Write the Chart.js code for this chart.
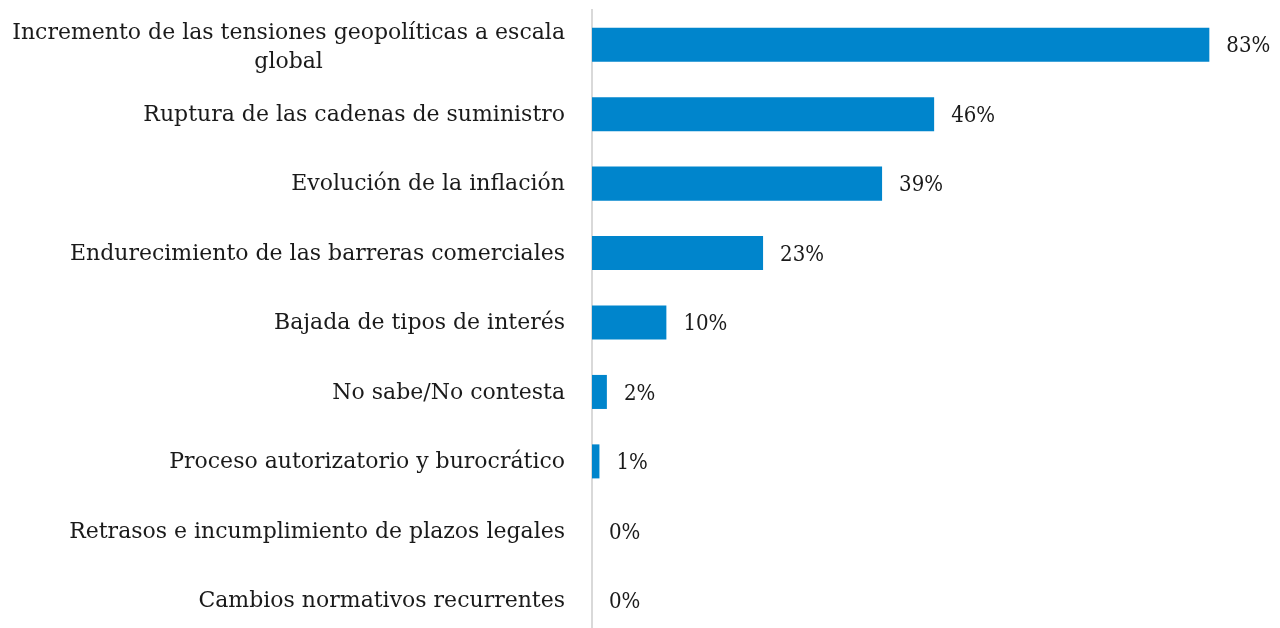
<!DOCTYPE html>
<html>
<head>
<meta charset="utf-8">
<script src="https://cdn.jsdelivr.net/npm/chart.js@4.4.1/dist/chart.umd.min.js"></script>
<style>
    html, body { margin: 0; padding: 0; background: #fff; overflow: hidden; }
    #wrap { position: relative; width: 1280px; height: 640px; }
</style>
</head>
<body>
<div id="wrap"><canvas id="barChart"></canvas></div>
<script>
// Chart data
const categories = [
    ['Incremento de las tensiones geopolíticas a escala', 'global'],
    'Ruptura de las cadenas de suministro',
    'Evolución de la inflación',
    'Endurecimiento de las barreras comerciales',
    'Bajada de tipos de interés',
    'No sabe/No contesta',
    'Proceso autorizatorio y burocrático',
    'Retrasos e incumplimiento de plazos legales',
    'Cambios normativos recurrentes'
];
const values = [83, 46, 39, 23, 10, 2, 1, 0, 0];

const labelFont = "22px 'DejaVu Serif', serif";
const valueFont = "22px 'DejaVu Serif Condensed', 'DejaVu Serif', serif";

// Draws category labels (multi-line centered) and value labels
const labelPlugin = {
    id: 'labelPlugin',
    afterDatasetsDraw(chart) {
        const ctx = chart.ctx;
        const yScale = chart.scales.y;
        const xScale = chart.scales.x;
        const area = chart.chartArea;
        ctx.save();
        ctx.fillStyle = '#1a1a1a';
        ctx.font = labelFont;
        ctx.textBaseline = 'middle';

        categories.forEach((cat, i) => {
            const y = yScale.getPixelForTick(i) + 1;
            const lines = Array.isArray(cat) ? cat : [cat];
            const right = area.left - 27;
            if (lines.length > 1) {
                const widest = Math.max(...lines.map(l => ctx.measureText(l).width));
                const center = right - widest / 2;
                const lh = 29;
                ctx.textAlign = 'center';
                lines.forEach((l, k) => {
                    ctx.fillText(l, center, y + 2 + (k - (lines.length - 1) / 2) * lh);
                });
            } else {
                ctx.textAlign = 'right';
                ctx.fillText(lines[0], right, y);
            }
        });

        ctx.font = valueFont;
        ctx.textAlign = 'left';
        values.forEach((v, i) => {
            const y = yScale.getPixelForTick(i);
            const x = xScale.getPixelForValue(v) + 17;
            ctx.fillText(v + '%', x, y + 2);
        });
        ctx.restore();
    }
};

const barCtx = document.getElementById('barChart');
new Chart(barCtx, {
    type: 'bar',
    data: {
        labels: categories,
        datasets: [{
            data: values,
            backgroundColor: '#0085CC',
            borderWidth: 0,
            barPercentage: 0.98,
            categoryPercentage: 0.5
        }]
    },
    options: {
        indexAxis: 'y',
        responsive: true,
        maintainAspectRatio: false,
        animation: false,
        layout: {
            padding: { left: 592, right: 0, top: 10, bottom: 5 }
        },
        plugins: {
            legend: { display: false },
            tooltip: { enabled: false }
        },
        scales: {
            x: {
                display: false,
                min: 0,
                max: 92.5
            },
            y: {
                ticks: { display: false },
                grid: { display: false, drawTicks: false },
                border: { display: true, color: '#d9d9d9', width: 2 }
            }
        }
    },
    plugins: [labelPlugin]
});
</script>
</body>
</html>
